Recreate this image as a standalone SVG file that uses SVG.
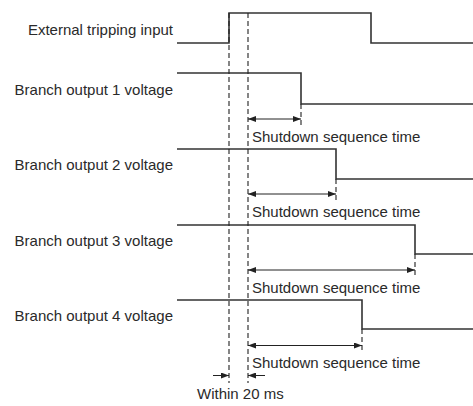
<svg xmlns="http://www.w3.org/2000/svg" width="473" height="406" viewBox="0 0 473 406">
<defs>
<marker id="ah" viewBox="0 0 8 6" refX="8" refY="3" markerWidth="8" markerHeight="6" markerUnits="userSpaceOnUse" orient="auto-start-reverse">
<path d="M0,0 L8,3 L0,6 z" fill="#222"/>
</marker>
<style>
.lbl{font-family:"Liberation Sans",Arial,sans-serif;font-size:15px;fill:#2a2a2a}
.sig{fill:none;stroke:#333;stroke-width:1.6}
.dash{fill:none;stroke:#222;stroke-width:1.1;stroke-dasharray:5,3}
.dim{fill:none;stroke:#222;stroke-width:1}
</style>
</defs>
<rect width="473" height="406" fill="#fff"/>
<g id="labels">
<text class="lbl" x="173" y="35" text-anchor="end">External tripping input</text>
<text class="lbl" x="173" y="95" text-anchor="end">Branch output 1 voltage</text>
<text class="lbl" x="173" y="170" text-anchor="end">Branch output 2 voltage</text>
<text class="lbl" x="173" y="246" text-anchor="end">Branch output 3 voltage</text>
<text class="lbl" x="173" y="321" text-anchor="end">Branch output 4 voltage</text>
</g>
<g id="signals">
<path id="trip" class="sig" d="M177,43 H229 V13 H371 V43 H473"/>
<path id="b1" class="sig" d="M177,73 H301 V104 H473"/>
<path id="b2" class="sig" d="M177,149 H336 V179 H473"/>
<path id="b3" class="sig" d="M177,225 H415 V254 H473"/>
<path id="b4" class="sig" d="M177,300 H362 V329 H473"/>
</g>
<g id="connectors">
<line class="dash" x1="229" y1="13" x2="229" y2="383"/>
<line class="dash" x1="248" y1="13" x2="248" y2="383"/>
<line class="dash" x1="301" y1="104" x2="301" y2="127"/>
<line class="dash" x1="336" y1="179" x2="336" y2="200"/>
<line class="dash" x1="415" y1="254" x2="415" y2="277"/>
<line class="dash" x1="362" y1="329" x2="362" y2="353"/>
<line class="dim" x1="248" y1="119" x2="301" y2="119" marker-start="url(#ah)" marker-end="url(#ah)"/>
<line class="dim" x1="248" y1="194" x2="336" y2="194" marker-start="url(#ah)" marker-end="url(#ah)"/>
<line class="dim" x1="248" y1="270" x2="415" y2="270" marker-start="url(#ah)" marker-end="url(#ah)"/>
<line class="dim" x1="248" y1="345.5" x2="362" y2="345.5" marker-start="url(#ah)" marker-end="url(#ah)"/>
<line class="dim" x1="213" y1="375.5" x2="229" y2="375.5" marker-end="url(#ah)"/>
<line class="dim" x1="265" y1="375.5" x2="248" y2="375.5" marker-end="url(#ah)"/>
</g>
<g id="dimlabels">
<text class="lbl" x="252" y="141.5">Shutdown sequence time</text>
<text class="lbl" x="252" y="217">Shutdown sequence time</text>
<text class="lbl" x="252" y="292.5">Shutdown sequence time</text>
<text class="lbl" x="252" y="368">Shutdown sequence time</text>
<text class="lbl" x="197" y="399">Within 20 ms</text>
</g>
</svg>
